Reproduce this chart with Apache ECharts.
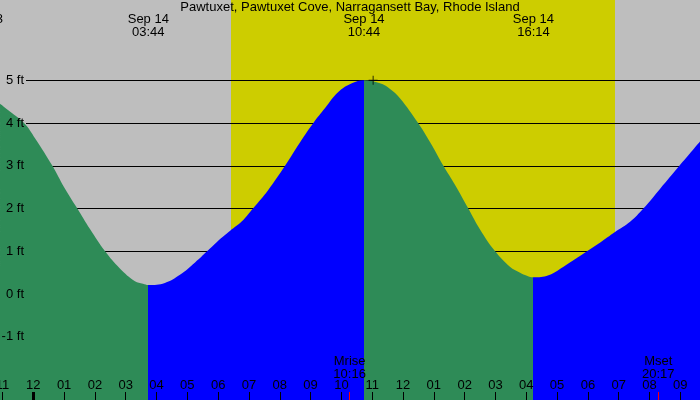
<!DOCTYPE html>
<html>
<head>
<meta charset="utf-8">
<title>Pawtuxet tide</title>
<script src="https://cdn.jsdelivr.net/npm/echarts@6/dist/echarts.min.js"></script>
</head>
<body style="margin:0">
<div id="main" style="width:700px;height:400px"></div>
<script>
// hours from midnight Sep 14 (negative = Sep 13) and tide height in feet
var tideHours = [-1.08, -0.76, -0.30, 0.06, 0.62, 1.00, 1.43, 1.84, 2.33, 2.81, 3.30, 3.56, 3.733,
  4.27, 4.76, 5.25, 5.64, 5.96, 6.39, 6.77, 7.13, 7.62, 8.17, 8.66, 9.09, 9.47, 9.89, 10.34, 10.733,
  11.25, 11.58, 11.90, 12.49, 12.88, 13.31, 13.69, 14.12, 14.50, 14.99, 15.47, 15.80, 16.02, 16.233,
  16.72, 17.21, 17.97, 18.39, 18.88, 19.37, 19.80, 20.34, 20.97, 21.64];
var tideFeet = [4.45, 4.27, 4.0, 3.64, 3.0, 2.5, 2.0, 1.52, 1.0, 0.60, 0.30, 0.24, 0.21,
  0.26, 0.45, 0.74, 1.0, 1.22, 1.48, 1.70, 2.0, 2.43, 3.0, 3.55, 4.0, 4.35, 4.72, 4.93, 5.0,
  4.93, 4.80, 4.58, 4.0, 3.55, 3.0, 2.55, 2.0, 1.51, 1.0, 0.64, 0.50, 0.43, 0.39,
  0.44, 0.64, 1.0, 1.20, 1.45, 1.69, 2.0, 2.46, 3.0, 3.57];

// high / low tides
var extremeHours = [-1.65, 3.733, 10.733, 16.233];
var extremeLabels = ['Sep 13\n22:21', 'Sep 14\n03:44', 'Sep 14\n10:44', 'Sep 14\n16:14'];

var hourTicks = [-1, 0, 1, 2, 3, 4, 5, 6, 7, 8, 9, 10, 11, 12, 13, 14, 15, 16, 17, 18, 19, 20, 21];
var hourLabels = ['11', '12', '01', '02', '03', '04', '05', '06', '07', '08', '09', '10',
  '11', '12', '01', '02', '03', '04', '05', '06', '07', '08', '09'];
var feetTicks = [-1, 0, 1, 2, 3, 4, 5];

var sunHours = [6.417, 18.88];          // sunrise, sunset
var moonHours = [10.267, 20.283];       // moonrise, moonset
var moonLabels = ['Mrise\n10:16', 'Mset\n20:17'];
var nowMark = [11.03, 5.0];

var X_MIN = -1.081, X_MAX = 21.639;
var Y_MIN = -2.48, Y_MAX = 6.88;
var FONT = 'Liberation Sans';

var myChart = echarts.init(document.getElementById('main'));

// falling tide green, rising tide blue
var bounds = [tideHours[0]];
extremeHours.forEach(function (h) { if (h > X_MIN && h < X_MAX) bounds.push(h); });
bounds.push(tideHours[tideHours.length - 1]);
function feetAt(h) { return tideFeet[tideHours.indexOf(h)]; }
var pieces = [];
for (var i = 0; i < bounds.length - 1; i++) {
  var p = { color: feetAt(bounds[i]) > feetAt(bounds[i + 1]) ? '#2e8b57' : '#0000ff' };
  if (i > 0) p.gte = bounds[i];
  if (i < bounds.length - 2) p.lt = bounds[i + 1];
  pieces.push(p);
}

var tideData = tideHours.map(function (h, i) { return [h, tideFeet[i]]; });

var option = {
  animation: false,
  backgroundColor: '#bebebe',
  title: {
    text: 'Pawtuxet, Pawtuxet Cove, Narragansett Bay, Rhode Island',
    left: 'center', top: 1, padding: 0,
    textStyle: { fontFamily: FONT, fontSize: 13, fontWeight: 'normal', color: '#000', lineHeight: 13 }
  },
  grid: [
    { left: 0, right: 0, top: 0, bottom: 0, outerBoundsMode: 'none' },
    { left: 26, right: 0, top: 0, bottom: 0, outerBoundsMode: 'none' }
  ],
  visualMap: { type: 'piecewise', show: false, dimension: 0, seriesIndex: 0, pieces: pieces },
  xAxis: [
    {
      type: 'value', gridIndex: 0, position: 'bottom', min: X_MIN, max: X_MAX, z: 4,
      axisLine: { show: false, onZero: false },
      splitLine: { show: false },
      axisTick: { show: true, inside: true, length: 8, customValues: hourTicks, lineStyle: { color: '#000', width: 1 } },
      axisLabel: {
        inside: true, margin: 8, customValues: hourTicks, color: '#000', fontFamily: FONT, fontSize: 13,
        formatter: function (v) { return hourLabels[hourTicks.indexOf(Math.round(v))]; }
      }
    },
    {
      type: 'value', gridIndex: 0, position: 'bottom', min: X_MIN, max: X_MAX, z: 4,
      axisLine: { show: false, onZero: false },
      splitLine: { show: false },
      axisTick: { show: true, inside: true, length: 8, customValues: [0], lineStyle: { color: '#000', width: 3 } },
      axisLabel: { show: false }
    },
    {
      type: 'value', gridIndex: 0, position: 'bottom', min: X_MIN, max: X_MAX, z: 4,
      axisLine: { show: false, onZero: false },
      splitLine: { show: false },
      axisTick: { show: true, inside: true, length: 8, customValues: moonHours, lineStyle: { color: '#ff0000', width: 1 } },
      axisLabel: {
        inside: true, margin: 19, customValues: moonHours, color: '#000', fontFamily: FONT, fontSize: 13, lineHeight: 13,
        formatter: function (v) { return moonLabels[moonHours.indexOf(v)]; }
      }
    },
    { type: 'value', gridIndex: 1, min: 0, max: 1, show: false }
  ],
  yAxis: [
    {
      type: 'value', gridIndex: 0, position: 'left', min: Y_MIN, max: Y_MAX, show: false,
      axisLine: { onZero: false }
    },
    {
      type: 'value', gridIndex: 1, position: 'left', min: Y_MIN, max: Y_MAX, z: 2,
      axisLine: { show: false, onZero: false },
      axisTick: { show: false, customValues: feetTicks },
      axisLabel: { show: false },
      splitLine: { show: true, lineStyle: { color: '#000', width: 1 } }
    },
    {
      type: 'value', gridIndex: 1, position: 'left', min: Y_MIN, max: Y_MAX, z: 4,
      axisLine: { show: false, onZero: false },
      axisTick: { show: false },
      splitLine: { show: false },
      axisLabel: {
        margin: 2, customValues: feetTicks, color: '#000', fontFamily: FONT, fontSize: 13,
        formatter: function (v) { return v + ' ft'; }
      }
    }
  ],
  series: [
    {
      type: 'line', xAxisIndex: 0, yAxisIndex: 0, z: 3,
      data: tideData, smooth: 0.4, symbol: 'none', silent: true,
      lineStyle: { width: 0 },
      areaStyle: { opacity: 1, origin: 'start' },
      markArea: {
        silent: true, z: 1,
        itemStyle: { color: '#cdcd00' },
        data: [[{ xAxis: sunHours[0] }, { xAxis: sunHours[1] }]]
      }
    },
    {
      type: 'scatter', xAxisIndex: 0, yAxisIndex: 0, z: 5, silent: true,
      data: [nowMark],
      symbol: 'path://M4,0h1v4h4v1h-4v4h-1v-4h-4v-1h4z', symbolSize: 9,
      itemStyle: { color: '#000' }
    }
  ]
};
myChart.setOption(option);

// tide time labels along the top
myChart.setOption({
  graphic: extremeHours.map(function (h, i) {
    return {
      type: 'text', z: 10,
      x: myChart.convertToPixel({ xAxisIndex: 0 }, h), y: 12.7,
      style: {
        text: extremeLabels[i], fill: '#000', fontFamily: FONT, fontSize: 13, lineHeight: 13,
        textAlign: 'center', textVerticalAlign: 'top', align: 'center', verticalAlign: 'top'
      }
    };
  })
});
</script>
</body>
</html>
